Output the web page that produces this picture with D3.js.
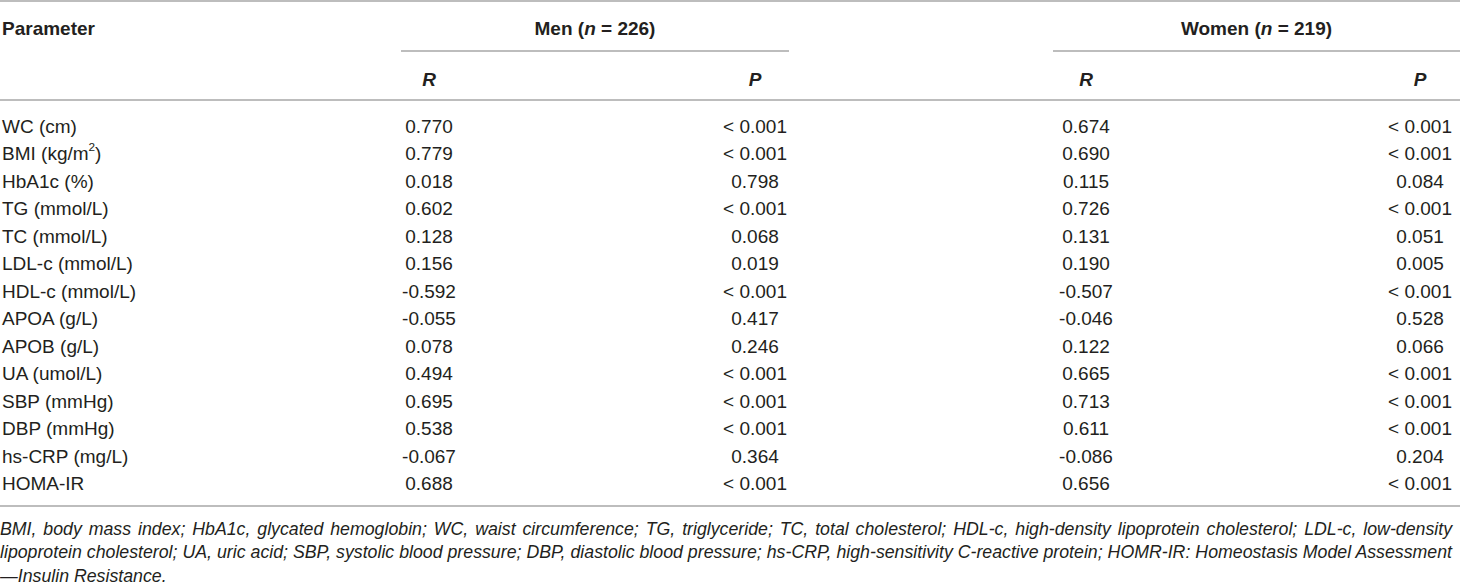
<!DOCTYPE html>
<html>
<head>
<meta charset="utf-8">
<script src="https://cdn.jsdelivr.net/npm/d3@7"></script>
<style>
  body { margin: 0; background: #fff; }
  svg { display: block; font-family: "Liberation Sans", Arial, Helvetica, sans-serif; }
</style>
</head>
<body>
<div id="table-container"></div>
<script>
// table values
const parameters = ["WC (cm)", "BMI (kg/m^2)", "HbA1c (%)", "TG (mmol/L)", "TC (mmol/L)", "LDL-c (mmol/L)",
  "HDL-c (mmol/L)", "APOA (g/L)", "APOB (g/L)", "UA (umol/L)", "SBP (mmHg)", "DBP (mmHg)", "hs-CRP (mg/L)", "HOMA-IR"];
const menR = [0.770, 0.779, 0.018, 0.602, 0.128, 0.156, -0.592, -0.055, 0.078, 0.494, 0.695, 0.538, -0.067, 0.688];
const menP = ["< 0.001", "< 0.001", "0.798", "< 0.001", "0.068", "0.019", "< 0.001", "0.417", "0.246",
  "< 0.001", "< 0.001", "< 0.001", "0.364", "< 0.001"];
const womenR = [0.674, 0.690, 0.115, 0.726, 0.131, 0.190, -0.507, -0.046, 0.122, 0.665, 0.713, 0.611, -0.086, 0.656];
const womenP = ["< 0.001", "< 0.001", "0.084", "< 0.001", "0.051", "0.005", "< 0.001", "0.528", "0.066",
  "< 0.001", "< 0.001", "< 0.001", "0.204", "< 0.001"];
const groups = [{ name: "Men", n: 226 }, { name: "Women", n: 219 }];
const footnote = [
  "BMI, body mass index; HbA1c, glycated hemoglobin; WC, waist circumference; TG, triglyceride; TC, total cholesterol; HDL-c, high-density lipoprotein cholesterol; LDL-c, low-density",
  "lipoprotein cholesterol; UA, uric acid; SBP, systolic blood pressure; DBP, diastolic blood pressure; hs-CRP, high-sensitivity C-reactive protein; HOMR-IR: Homeostasis Model Assessment",
  "\u2014Insulin Resistance."
];

const width = 1460, height = 586;
const textColor = "#231f20", ruleColor = "#a7a7a7";
const fontSize = 19;

const svg = d3.select("#table-container")
  .append("svg")
  .attr("width", width)
  .attr("height", height);

// column centres and group spans
const colX = d3.scaleOrdinal()
  .domain(["MenR", "MenP", "WomenR", "WomenP"])
  .range([429, 755, 1086, 1420]);
const groupSpan = { Men: [401, 789], Women: [1053, 1460] };

const y = d3.scalePoint()
  .domain(parameters)
  .range([126, 483.5]);

const fmt = d3.formatLocale({ decimal: ".", thousands: ",", grouping: [3], currency: ["", ""], minus: "-" }).format(".3f");

// horizontal rules
const rule = (x1, x2, yy) => svg.append("line")
  .attr("x1", x1).attr("x2", x2).attr("y1", yy).attr("y2", yy)
  .attr("stroke", ruleColor).attr("stroke-width", 1.6);

rule(0, width, 1);
rule(0, width, 100);
rule(0, width, 506);
groups.forEach((g) => rule(groupSpan[g.name][0], groupSpan[g.name][1], 51));

// header
svg.append("text")
  .attr("x", 2).attr("y", 28).attr("dy", "0.35em")
  .attr("font-size", fontSize).attr("font-weight", "bold").attr("fill", textColor)
  .text("Parameter");

groups.forEach((g) => {
  const t = svg.append("text")
    .attr("x", (groupSpan[g.name][0] + groupSpan[g.name][1]) / 2)
    .attr("y", 28).attr("dy", "0.35em")
    .attr("text-anchor", "middle")
    .attr("font-size", fontSize).attr("font-weight", "bold").attr("fill", textColor);
  t.append("tspan").text(g.name + " (");
  t.append("tspan").attr("font-style", "italic").text("n");
  t.append("tspan").text(" = " + g.n + ")");

  ["R", "P"].forEach((k) => {
    svg.append("text")
      .attr("x", colX(g.name + k))
      .attr("y", 79).attr("dy", "0.35em")
      .attr("text-anchor", "middle")
      .attr("font-size", fontSize).attr("font-weight", "bold").attr("font-style", "italic")
      .attr("fill", textColor)
      .text(k);
  });
});

// body rows
const rows = svg.append("g")
  .attr("font-size", fontSize)
  .attr("fill", textColor)
  .selectAll("g")
  .data(parameters.map((p, i) => ({ p, menR: menR[i], menP: menP[i], womenR: womenR[i], womenP: womenP[i] })))
  .enter()
  .append("g")
  .attr("transform", (d) => `translate(0, ${y(d.p)})`);

rows.append("text")
  .attr("x", 2).attr("dy", "0.35em")
  .each(function (d) {
    const parts = d.p.split("^");
    const t = d3.select(this);
    if (parts.length === 1) { t.text(d.p); return; }
    const sup = parts[1].charAt(0);
    t.append("tspan").text(parts[0]);
    t.append("tspan").attr("font-size", fontSize * 0.62).attr("dy", "-0.75em").text(sup);
    t.append("tspan").attr("dy", "0.46em").text(parts[1].slice(1));
  });

const cells = [
  ["MenR", (d) => fmt(d.menR)],
  ["MenP", (d) => d.menP],
  ["WomenR", (d) => fmt(d.womenR)],
  ["WomenP", (d) => d.womenP]
];
cells.forEach(([key, val]) => {
  rows.append("text")
    .attr("x", colX(key))
    .attr("dy", "0.35em")
    .attr("text-anchor", "middle")
    .text(val);
});

// footnote, justified like the source; size picked so the tight 2nd line fills the width
const noteWidth = 1452;
const probe = svg.append("text")
  .attr("font-size", 16).attr("font-style", "italic")
  .text(footnote[1]);
const noteSize = Math.min(18, 16 * noteWidth / probe.node().getComputedTextLength());
probe.remove();

footnote.forEach((line, i) => {
  const t = svg.append("text")
    .attr("x", 0)
    .attr("y", 529 + i * 23.5).attr("dy", "0.32em")
    .attr("font-size", noteSize).attr("font-style", "italic").attr("fill", textColor)
    .text(line);
  if (i < footnote.length - 1) {
    const natural = t.node().getComputedTextLength();
    const gaps = line.split(" ").length - 1;
    if (natural < noteWidth) {
      t.attr("word-spacing", (noteWidth - natural) / gaps);
    } else {
      t.attr("textLength", noteWidth).attr("lengthAdjust", "spacingAndGlyphs");
    }
  }
});
</script>
</body>
</html>
